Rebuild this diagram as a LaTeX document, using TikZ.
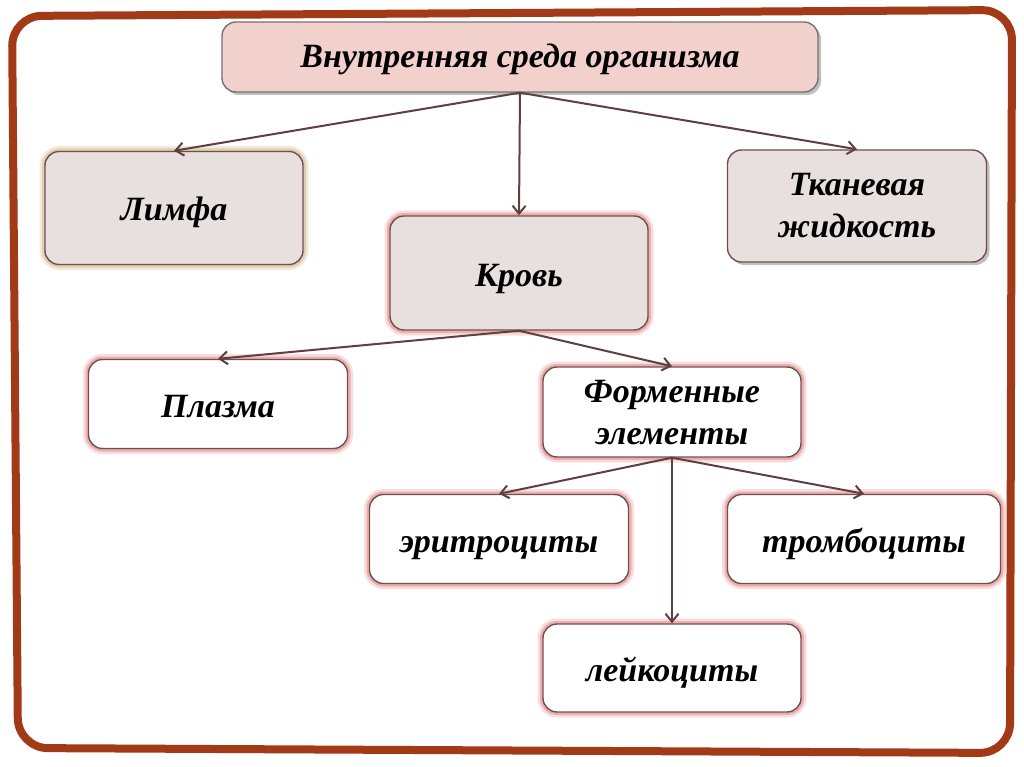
\documentclass[tikz,border=0pt]{standalone}
\usepackage{fontspec}
\setmainfont{Liberation Serif}
\usetikzlibrary{arrows.meta,shadows}
\definecolor{frameC}{HTML}{A23A18}
\definecolor{arrC}{HTML}{5E4040}
\definecolor{bordC}{HTML}{6E5050}
\definecolor{topFill}{HTML}{F2D0CC}
\definecolor{greyFill}{HTML}{E8DFDF}
\definecolor{pinkGlow}{HTML}{E89090}
\definecolor{tanGlow}{HTML}{D8C49E}
\tikzset{
  box/.style={draw=bordC, line width=1.4pt, rounded corners=14pt, align=center,
    font=\fontsize{34}{42}\selectfont\bfseries\itshape, inner sep=0pt,
    text height=32pt, text depth=6pt},
  twoline/.style={text height=#1, text depth=6pt},
  glowpink/.style={preaction={draw=pinkGlow, line width=11pt, opacity=0.3},
    preaction={draw=pinkGlow, line width=6pt, opacity=0.6}},
  glowtan/.style={preaction={draw=tanGlow, line width=11pt, opacity=0.35},
    preaction={draw=tanGlow, line width=6pt, opacity=0.7}},
  shad/.style={drop shadow={shadow xshift=3pt, shadow yshift=-3pt, opacity=0.35, fill=black!70}},
  arr/.style={draw=arrC, line width=2pt, -{Straight Barb[length=8pt,width=13pt,line width=2pt]}},
}
\begin{document}
\begin{tikzpicture}[x=1pt,y=-1pt]
\useasboundingbox (0,0) rectangle (1024,767);
\fill[white] (0,0) rectangle (1024,767);
% frame
\draw[frameC, line width=8pt, rounded corners=30pt]
  (12,16) -- (1012,10) -- (1010,753) -- (18,748) -- cycle;
% nodes
\node[box, shad, fill=topFill, draw=black!55, text height=30pt, text depth=8pt, minimum width=596pt, minimum height=70pt] (top) at (520,57) {Внутренняя среда организма};
\node[box, glowtan, fill=greyFill, minimum width=258pt, minimum height=113pt] (limfa) at (174,208) {Лимфа};
\node[box, twoline=68pt, shad, fill=greyFill, minimum width=259pt, minimum height=112pt] (tkan) at (857,206) {Тканевая\\жидкость};
\node[box, glowpink, fill=greyFill, minimum width=258pt, minimum height=114pt] (krov) at (519,273) {Кровь};
\node[box, glowpink, fill=white, minimum width=259pt, minimum height=89pt] (plazma) at (218,404) {Плазма};
\node[box, twoline=70pt, glowpink, fill=white, minimum width=258pt, minimum height=90pt] (form) at (672,412) {Форменные\\элементы};
\node[box, glowpink, fill=white, minimum width=259pt, minimum height=89pt] (eritr) at (499,539) {эритроциты};
\node[box, glowpink, fill=white, minimum width=273pt, minimum height=89pt] (tromb) at (864,539) {тромбоциты};
\node[box, glowpink, fill=white, minimum width=258pt, minimum height=88pt] (leik) at (672,668) {лейкоциты};
% connectors
\draw[arr] (top.south) -- (limfa.north);
\draw[arr] (top.south) -- (krov.north);
\draw[arr] (top.south) -- (tkan.north);
\draw[arr] (krov.south) -- (plazma.north);
\draw[arr] (krov.south) -- (form.north);
\draw[arr] (form.south) -- (eritr.north);
\draw[arr] (form.south) -- (tromb.north);
\draw[arr] (form.south) -- (leik.north);
\end{tikzpicture}
\end{document}
